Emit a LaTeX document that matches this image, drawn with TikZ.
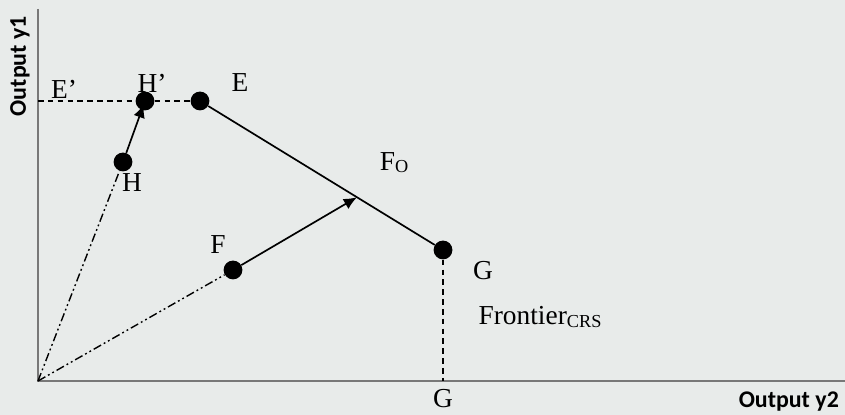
\documentclass[tikz,border=0pt]{standalone}
\usepackage{fontspec}
\setmainfont{Liberation Serif}
\newfontfamily\axisfont{Carlito}
\usepackage{tikz}
\usetikzlibrary{arrows.meta,positioning,calc}
\definecolor{paper}{RGB}{232,235,234}
\definecolor{axisgray}{RGB}{120,120,120}

\begin{document}
\begin{tikzpicture}[dot/.style={circle, fill=black, inner sep=0pt, minimum size=4.7mm},
	lbl/.style={font=\fontsize{19.5}{22}\selectfont, inner sep=0pt},
	ax/.style={axisgray, line width=0.9pt},
	arr/.style={-{Latex[length=3.3mm,width=2.9mm]}, line width=1.2pt},
	dashln/.style={dash pattern=on 4pt off 3pt, line width=1pt},
	ray/.style={dash pattern=on 6pt off 2.2pt on 1.3pt off 2.2pt on 1.3pt off 2.2pt, line width=1pt}]
	\fill[paper] (0,0) rectangle (21.125,10.375);
	\useasboundingbox (0,0) rectangle (21.125,10.375);
	% axes
	\coordinate (O) at (0.95,0.85);
	\coordinate (ytop) at (0.95,10.15);
	\coordinate (xend) at (21.125,0.85);
	\draw[ax] (ytop) -- (O) -- (xend);
	\node[font=\axisfont\bfseries\fontsize{17}{19}\selectfont, rotate=90] (ylab) at (0.5,8.72) {Output y1};
	\node[font=\axisfont\bfseries\fontsize{17}{19}\selectfont] (xlab) at (19.72,0.33) {Output y2};
	% points
	\node[dot] (E) at (5.0,7.85) {};
	\node[dot] (Hp) at (3.625,7.85) {};
	\node[dot] (H) at (3.075,6.325) {};
	\node[dot] (F) at (5.825,3.625) {};
	\node[dot] (G) at (11.075,4.125) {};
	\coordinate (Ep) at (0.95,7.85);
	\coordinate (Gx) at (11.075,0.85);
	\coordinate (Fo) at ($(E)!0.646!(G)$);
	% lines
	\draw[dashln] (Ep) -- (Hp) -- (E);
	\draw[line width=1.2pt] (E) -- (G);
	\draw[dashln] (G) -- (Gx);
	\draw[ray] (O) -- (H);
	\draw[ray] (O) -- (F);
	\draw[arr, shorten >=-1.5mm] (H) -- (Hp);
	\draw[arr] (F) -- (Fo);
	% labels
	\node[lbl] (lEp) at (1.6,8.15) {E’};
	\node[lbl] (lHp) at (3.8,8.3) {H’};
	\node[lbl] (lE) at (6.0,8.3) {E};
	\node[lbl] (lH) at (3.3,5.8) {H};
	\node[lbl] (lF) at (5.45,4.25) {F};
	\node[lbl] (lFo) at (9.85,6.3) {F\raisebox{-1.5pt}{\fontsize{13}{15}\selectfont O}};
	\node[lbl] (lG) at (12.075,3.6) {G};
	\node[lbl] (lGx) at (11.075,0.42) {G};
	\node[lbl] (lfr) at (13.5,2.45) {Frontier\raisebox{-1.5pt}{\fontsize{13}{15}\selectfont CRS}};
\end{tikzpicture}
\end{document}
